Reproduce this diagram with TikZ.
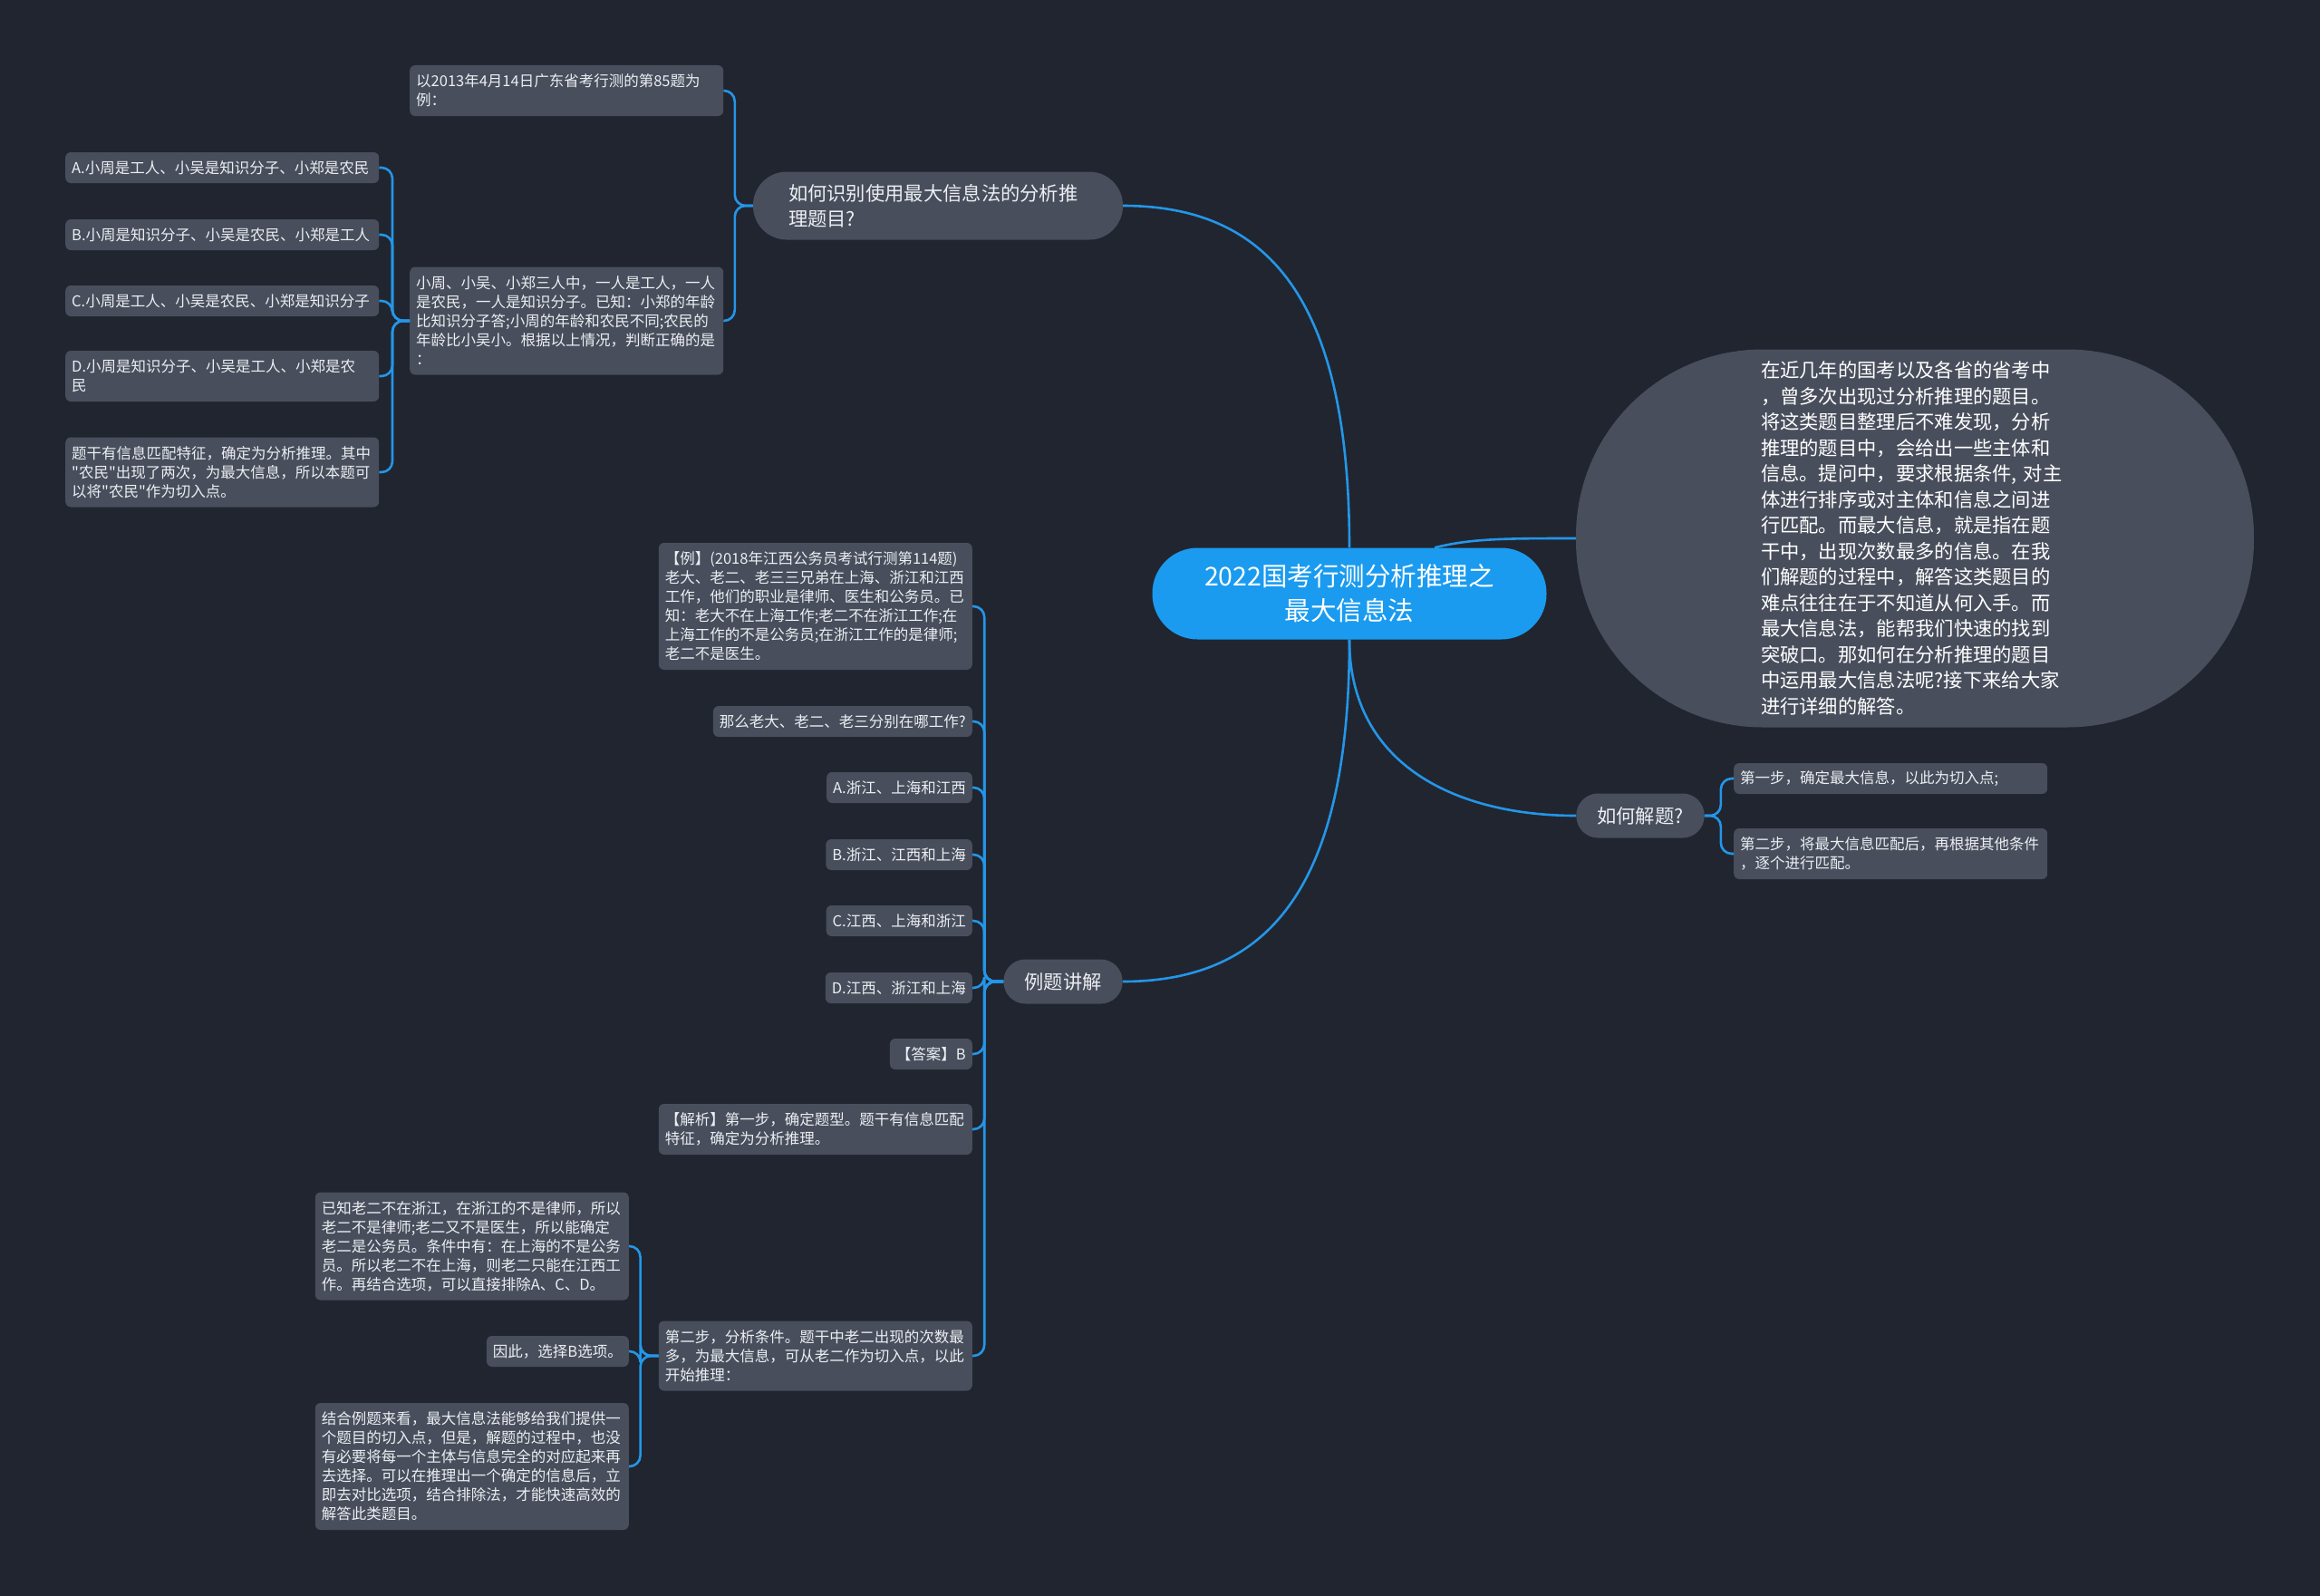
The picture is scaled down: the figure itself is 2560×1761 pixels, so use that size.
\documentclass[tikz,border=0pt]{standalone}
\usepackage{fontspec}
\newfontfamily\cjk{Noto Sans CJK SC}
\usetikzlibrary{calc,positioning}
\definecolor{bgc}{RGB}{33,37,48}
\definecolor{boxc}{RGB}{72,78,92}
\definecolor{rootc}{RGB}{26,155,240}
\definecolor{linec}{RGB}{36,150,232}
\definecolor{txtc}{RGB}{236,238,242}
\tikzset {
  every node/.style={font=\cjk, text=txtc},
  rootbox/.style={fill=rootc, rounded corners=50pt, minimum width=435pt,
    minimum height=101pt, align=center, text=white,
    font=\cjk\fontsize{28.5}{38}\selectfont},
  branch/.style={fill=boxc, rounded corners=24pt, inner xsep=23pt,
    minimum height=49pt, font=\cjk\fontsize{21.3}{28}\selectfont},
  leaf/.style={fill=boxc, rounded corners=6pt, inner xsep=7pt, inner ysep=3pt,
    align=left, minimum height=34pt, font=\cjk\fontsize{16.5}{21}\selectfont},
  wide/.style={leaf, text width=332pt},
  nlines/.style={minimum height={21*#1+14}},
  link/.style={draw=linec, line width=2.6pt},
  bracket/.style={link, rounded corners=12pt},
}

\begin{document}
\begin{tikzpicture}[x=1pt,y=-1pt]
  \fill[bgc] (0,0) rectangle (2560,1761);
  \useasboundingbox (0,0) rectangle (2560,1761);
  % centre and first level
  \node[rootbox] (root) at (1489,655) {2022国考行测分析推理之\\最大信息法};
  \node[fill=boxc, rounded corners=206pt, minimum width=748pt, minimum height=417pt,
    text width=340pt, align=left, text=white,
    font=\cjk\fontsize{21.3}{28.5}\selectfont] (intro) at (2113,594)
    {在近几年的国考以及各省的省考中\\，曾多次出现过分析推理的题目。\\将这类题目整理后不难发现，分析\\推理的题目中，会给出一些主体和\\信息。提问中，要求根据条件,~对主\\体进行排序或对主体和信息之间进\\行匹配。而最大信息，就是指在题\\干中，出现次数最多的信息。在我\\们解题的过程中，解答这类题目的\\难点往往在于不知道从何入手。而\\最大信息法，能帮我们快速的找到\\突破口。那如何在分析推理的题目\\中运用最大信息法呢?接下来给大家\\进行详细的解答。};
  \node[branch, text width=330pt, inner xsep=39pt, minimum height=75pt,
    rounded corners=37pt, align=left] (spot) at (1035,227)
    {如何识别使用最大信息法的分析推\\理题目?};
  \node[branch] (solve) at (1810,900) {如何解题?};
  \node[branch] (demo) at (1173,1083) {例题讲解};

  \draw[link] (root.north) .. controls +(0,-275) and +(160,0) .. (spot.east);
  \draw[link] (root.south) .. controls +(0,275) and +(160,0) .. (demo.east);
  \draw[link] (root.south) .. controls +(0,140) and +(-130,0) .. (solve.west);
  \draw[link] ($(root.north)+(94,0)$) .. controls +(40,-10) and +(-80,0) .. (intro.west);

  % how to spot such a question
  \node[wide, nlines=2, anchor=west] (gd85) at (452,100)
    {以2013年4月14日广东省考行测的第85题为\\例：};
  \node[wide, nlines=5, anchor=west] (cond) at (452,354)
    {小周、小吴、小郑三人中，一人是工人，一人\\是农民，一人是知识分子。已知：小郑的年龄\\比知识分子答;小周的年龄和农民不同;农民的\\年龄比小吴小。根据以上情况，判断正确的是\\：};
  \node[wide, anchor=west] (optA) at (72,185) {A.小周是工人、小吴是知识分子、小郑是农民};
  \node[wide, anchor=west] (optB) at (72,259) {B.小周是知识分子、小吴是农民、小郑是工人};
  \node[wide, anchor=west] (optC) at (72,332) {C.小周是工人、小吴是农民、小郑是知识分子};
  \node[wide, nlines=2, anchor=west] (optD) at (72,415)
    {D.小周是知识分子、小吴是工人、小郑是农\\民};
  \node[wide, nlines=3, anchor=west] (farmer) at (72,521)
    {题干有信息匹配特征，确定为分析推理。其中\\"农民"出现了两次，为最大信息，所以本题可\\以将"农民"作为切入点。};

  \foreach \c in {gd85,cond}
    \draw[bracket] (spot.west) -- ++(-20,0) |- (\c.east);
  \foreach \c in {optA,optB,optC,optD,farmer}
    \draw[bracket] (cond.west) -- ++(-19,0) |- (\c.east);

  % how to solve
  \node[wide, anchor=west] (first) at (1913,859) {第一步，确定最大信息，以此为切入点;};
  \node[wide, nlines=2, anchor=west] (second) at (1913,942)
    {第二步，将最大信息匹配后，再根据其他条件\\，逐个进行匹配。};
  \foreach \c in {first,second}
    \draw[bracket] (solve.east) -- ++(18,0) |- (\c.west);

  % worked example
  \node[wide, nlines=6, anchor=east] (jx114) at (1073,669)
    {【例】(2018年江西公务员考试行测第114题)\\老大、老二、老三三兄弟在上海、浙江和江西\\工作，他们的职业是律师、医生和公务员。已\\知：老大不在上海工作;老二不在浙江工作;在\\上海工作的不是公务员;在浙江工作的是律师;\\老二不是医生。};
  \node[leaf, anchor=east] (where) at (1073,796) {那么老大、老二、老三分别在哪工作?};
  \node[leaf, anchor=east] (ansA) at (1073,869) {A.浙江、上海和江西};
  \node[leaf, anchor=east] (ansB) at (1073,943) {B.浙江、江西和上海};
  \node[leaf, anchor=east] (ansC) at (1073,1016) {C.江西、上海和浙江};
  \node[leaf, anchor=east] (ansD) at (1073,1090) {D.江西、浙江和上海};
  \node[leaf, anchor=east] (key) at (1073,1163) {【答案】B};
  \node[wide, nlines=2, anchor=east] (parse) at (1073,1246)
    {【解析】第一步，确定题型。题干有信息匹配\\特征，确定为分析推理。};
  \node[wide, nlines=3, anchor=east] (laoer) at (1073,1496)
    {第二步，分析条件。题干中老二出现的次数最\\多，为最大信息，可从老二作为切入点，以此\\开始推理：};
  \foreach \c in {jx114,where,ansA,ansB,ansC,ansD,key,parse,laoer}
    \draw[bracket] (demo.west) -- ++(-21,0) |- (\c.east);

  \node[wide, nlines=5, anchor=east] (proof) at (694,1375)
    {已知老二不在浙江，在浙江的不是律师，所以\\老二不是律师;老二又不是医生，所以能确定\\老二是公务员。条件中有：在上海的不是公务\\员。所以老二不在上海，则老二只能在江西工\\作。再结合选项，可以直接排除A、C、D。};
  \node[leaf, anchor=east] (pick) at (694,1491) {因此，选择B选项。};
  \node[wide, nlines=6, anchor=east] (recap) at (694,1618)
    {结合例题来看，最大信息法能够给我们提供一\\个题目的切入点，但是，解题的过程中，也没\\有必要将每一个主体与信息完全的对应起来再\\去选择。可以在推理出一个确定的信息后，立\\即去对比选项，结合排除法，才能快速高效的\\解答此类题目。};
  \foreach \c in {proof,pick,recap}
    \draw[bracket] (laoer.west) -- ++(-20,0) |- (\c.east);
\end{tikzpicture}
\end{document}
